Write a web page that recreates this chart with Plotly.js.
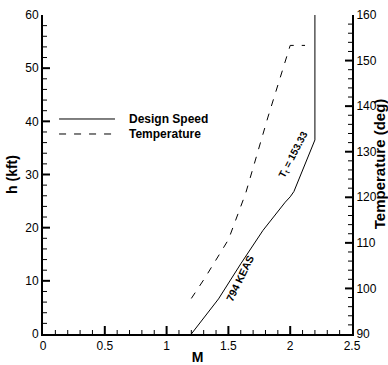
<!DOCTYPE html>
<html>
<head>
<meta charset="utf-8">
<script src="https://cdn.plot.ly/plotly-3.0.1.min.js"></script>
<style>html,body{margin:0;padding:0;background:#fff;}#chart{width:388px;height:365px;}</style>
</head>
<body>
<div id="chart"></div>
<script>
// Design speed: altitude (kft) vs Mach
const speedMach = [1.2, 1.42, 1.6, 1.78, 1.96, 2.0, 2.03, 2.2, 2.2];
const speedAlt  = [0, 6.6, 13.2, 19.5, 24.8, 25.8, 26.8, 36.5, 60];
// Temperature (deg) vs Mach
const tempMach = [1.2, 1.31, 1.5, 1.64, 1.82, 2.0, 2.12];
const tempVal  = [97.8, 102.3, 110.7, 120.9, 137.6, 153.33, 153.33];
const seriesNames = ["Design Speed", "Temperature"];
// axis tick values
const xMajor = [0.5, 1, 1.5, 2];
const hMajor = [10, 20, 30, 40, 50];
const tMajor = [100, 110, 120, 130, 140, 150];

const font = "Liberation Sans, Arial, Helvetica, sans-serif";
const dashStyle = "7px,8px";

const W = 388, H = 365, M = {l: 43, r: 36, t: 15, b: 31};
const xRange = [0, 2.5], hRange = [0, 60], tRange = [90, 160];
const plotW = W - M.l - M.r, plotH = H - M.t - M.b;
// convert a tick length in pixels into axis units
const pxX = px => px * (xRange[1] - xRange[0]) / plotW;
const pxH = px => px * (hRange[1] - hRange[0]) / plotH;

const traces = [
  {x: speedMach, y: speedAlt, type: "scatter", mode: "lines", name: seriesNames[0],
   line: {color: "#000", width: 1}, xaxis: "x", yaxis: "y", showlegend: false},
  {x: tempMach, y: tempVal, type: "scatter", mode: "lines", name: seriesNames[1],
   line: {color: "#000", width: 1, dash: dashStyle}, xaxis: "x", yaxis: "y2", showlegend: false}
];

const axisCommon = {
  ticks: "", showline: true, linewidth: 2, linecolor: "#000", showgrid: false, zeroline: false,
  tickfont: {family: font, size: 12, color: "#000"}
};

// inside tick marks drawn as shapes
function range(a, b, step) { const r = []; for (let v = a; v <= b + 1e-9; v += step) r.push(+v.toFixed(4)); return r; }
const isMajor = (v, arr) => arr.some(m => Math.abs(m - v) < 1e-6);
const tickShapes = [];
range(0.1, 2.4, 0.1).forEach(v => {
  const maj = isMajor(v, xMajor);
  tickShapes.push({type: "line", xref: "x", yref: "y", layer: "above",
    x0: v, x1: v, y0: hRange[0], y1: hRange[0] + pxH(maj ? 8 : 4), line: {color: "#000", width: maj ? 2 : 1}});
});
range(2, 58, 2).forEach(v => {
  const maj = isMajor(v, hMajor);
  tickShapes.push({type: "line", xref: "x", yref: "y", layer: "above",
    x0: xRange[0], x1: xRange[0] + pxX(maj ? 7 : 4), y0: v, y1: v, line: {color: "#000", width: maj ? 2 : 1}});
});
range(92, 158, 2).forEach(v => {
  const maj = isMajor(v, tMajor);
  tickShapes.push({type: "line", xref: "x", yref: "y2", layer: "above",
    x0: xRange[1], x1: xRange[1] - pxX(maj ? 7 : 4), y0: v, y1: v, line: {color: "#000", width: maj ? 2 : 1}});
});

// manual legend (paper coordinates of plot area)
const legY = [0.674, 0.627];
const legendShapes = seriesNames.map((n, i) => ({
  type: "line", xref: "paper", yref: "paper", x0: 0.052, x1: 0.233, y0: legY[i], y1: legY[i],
  line: {color: "#000", width: 1, dash: i === 0 ? "solid" : dashStyle}
}));
const legendTexts = seriesNames.map((n, i) => ({
  xref: "paper", yref: "paper", x: 0.272, y: legY[i], xanchor: "left", yanchor: "middle",
  text: n, showarrow: false, font: {family: font, size: 12, color: "#000", weight: "bold"}
}));

const layout = {
  width: W, height: H,
  margin: M,
  paper_bgcolor: "#fff", plot_bgcolor: "#fff",
  font: {family: font, size: 12, color: "#000"},
  showlegend: false,
  xaxis: Object.assign({}, axisCommon, {range: xRange, dtick: 0.5, tick0: 0,
          title: {text: "M", font: {family: font, size: 14, weight: "bold"}, standoff: 0}}),
  yaxis: Object.assign({}, axisCommon, {range: hRange, dtick: 10,
          title: {text: "h (kft)", font: {family: font, size: 14, weight: "bold"}, standoff: 4}}),
  yaxis2: Object.assign({}, axisCommon, {range: tRange, dtick: 10, overlaying: "y", side: "right"}),
  shapes: tickShapes.concat(legendShapes),
  annotations: legendTexts.concat([
    {xref: "paper", yref: "paper", x: 1.087, y: 0.535, xanchor: "center", yanchor: "middle",
     text: "Temperature (deg)", showarrow: false, textangle: -90,
     font: {family: font, size: 15, color: "#000", weight: "bold"}},
    {x: 1.594, y: 10.5, xref: "x", yref: "y", text: "794 KEAS", showarrow: false, textangle: -64,
     font: {family: font, size: 10.5, weight: "bold"}},
    {x: 2.03, y: 33.8, xref: "x", yref: "y", text: "T<sub>t</sub> = 153.33", showarrow: false, textangle: -62,
     font: {family: font, size: 10, weight: "bold"}}
  ])
};

Plotly.newPlot("chart", traces, layout, {displayModeBar: false, staticPlot: true});
</script>
</body>
</html>
